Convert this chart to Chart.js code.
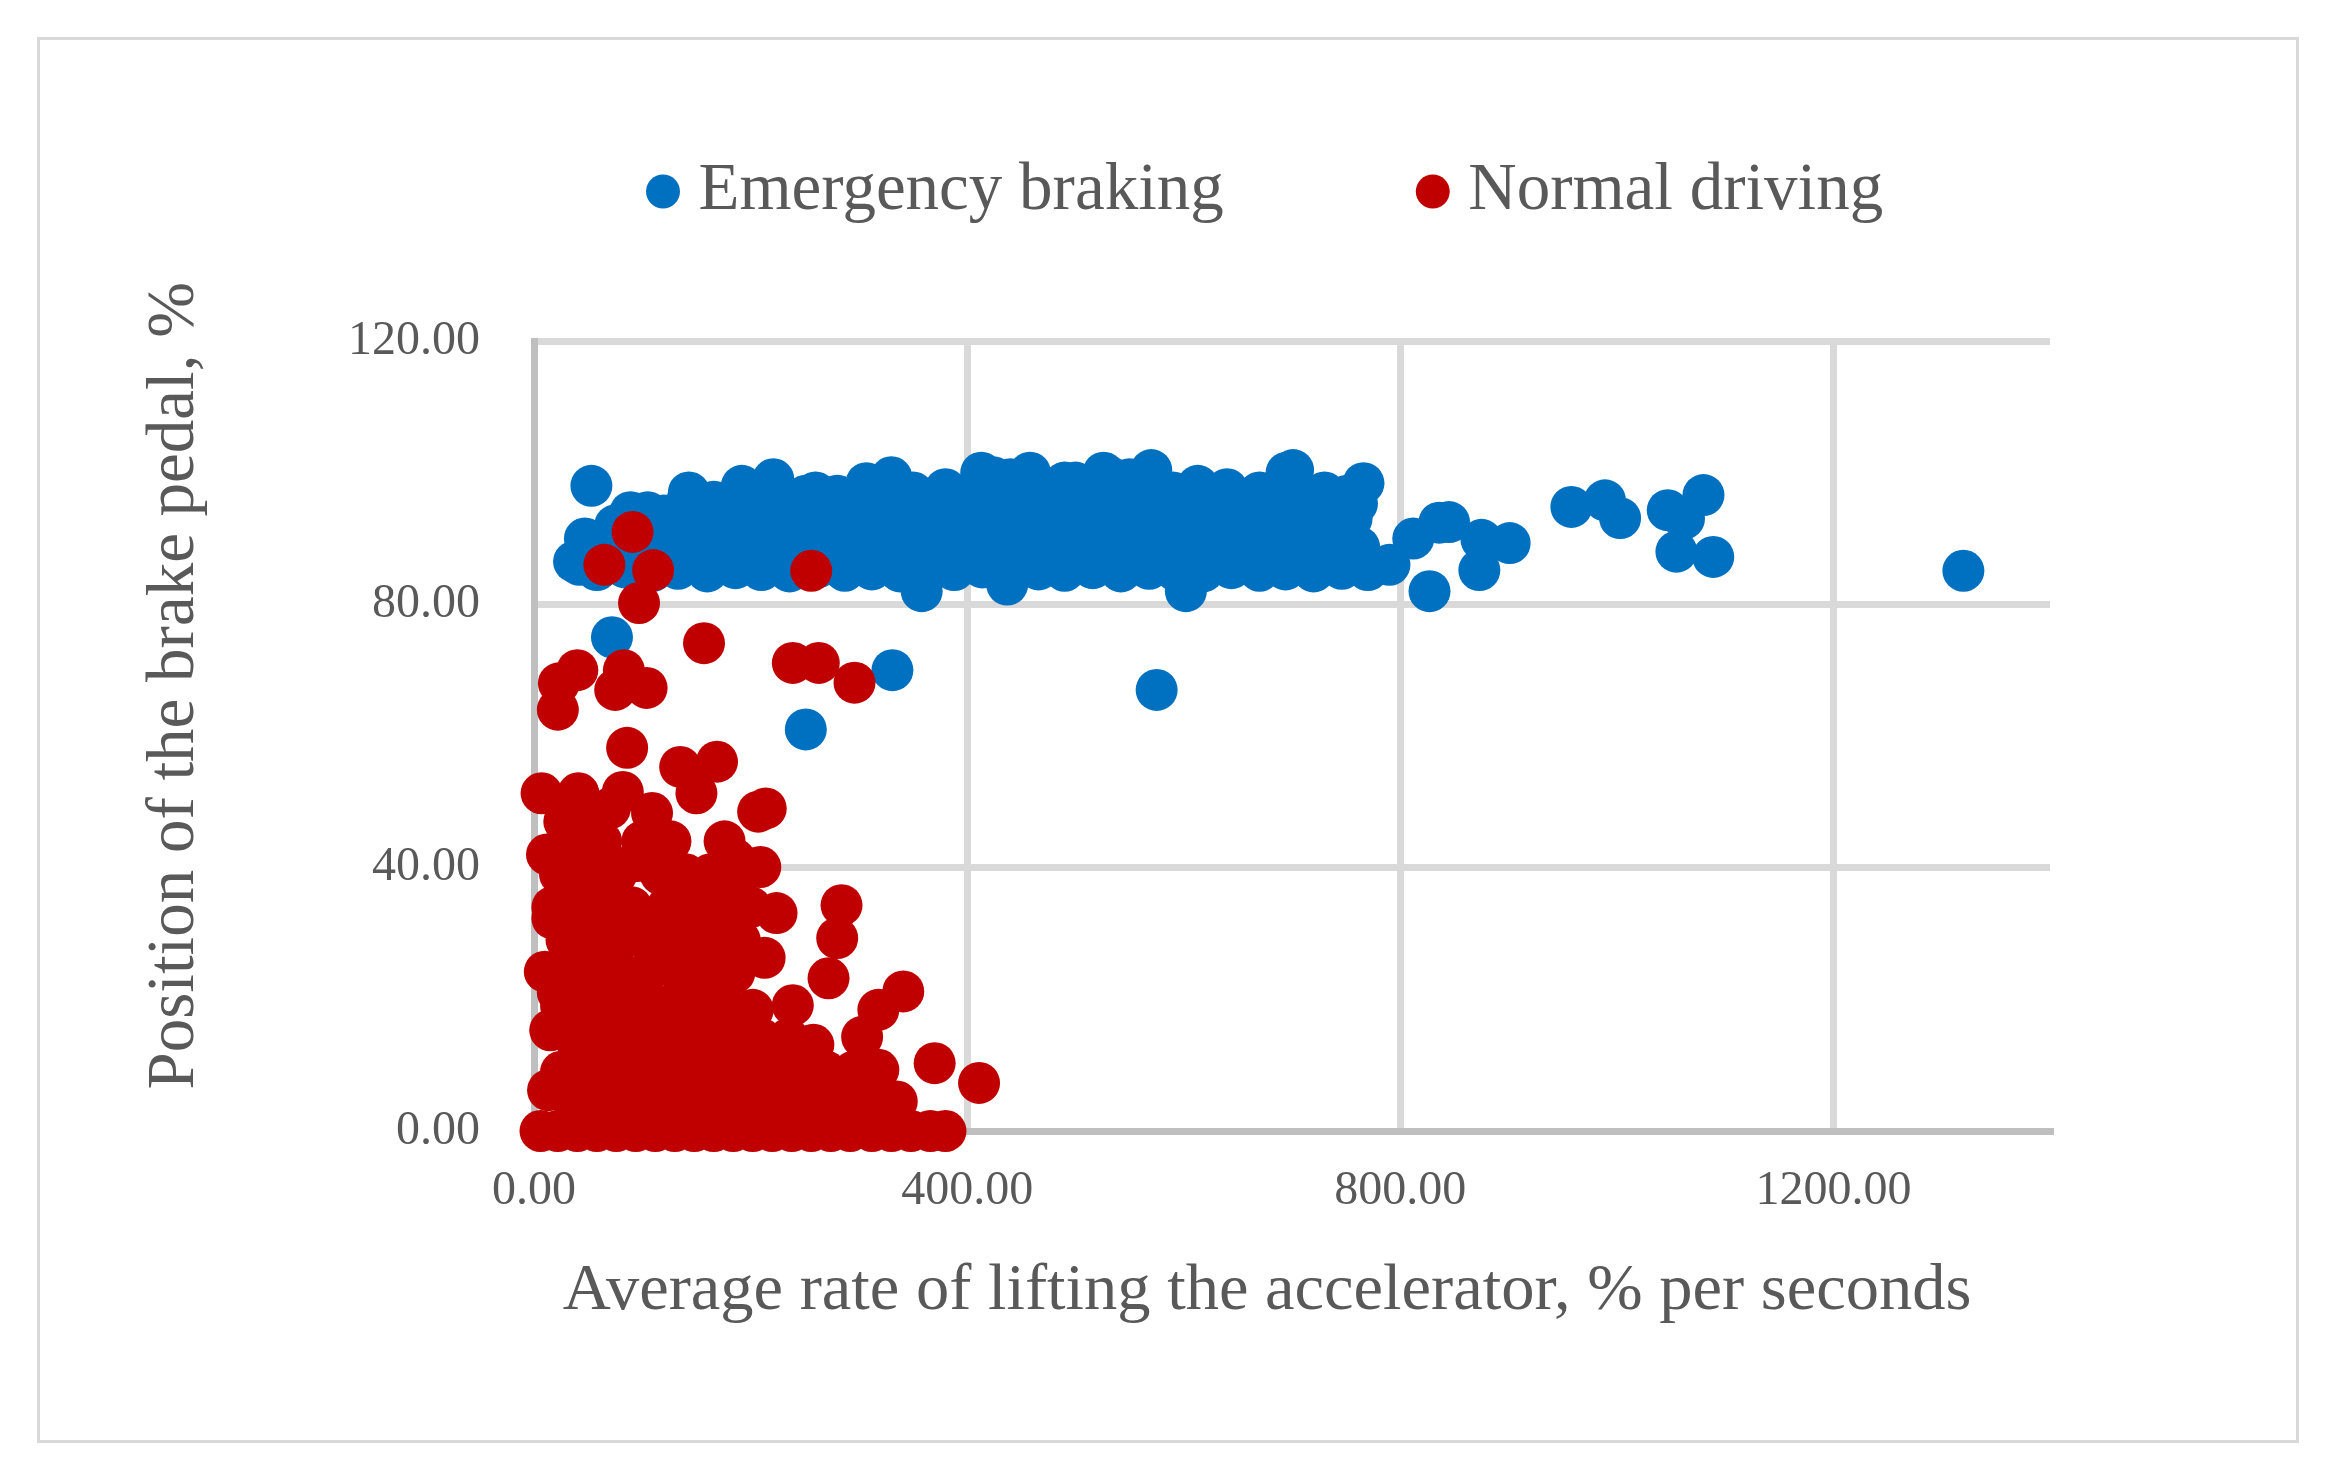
<!DOCTYPE html>
<html>
<head>
<meta charset="utf-8">
<title>Brake pedal vs accelerator lift rate</title>
<script src="https://cdn.jsdelivr.net/npm/chart.js@4/dist/chart.umd.min.js"></script>
<style>
  html, body { margin: 0; padding: 0; background: #ffffff; }
  #frame {
    position: absolute;
    left: 37px; top: 37px;
    width: 2262px; height: 1406px;
    border: 3px solid #d9d9d9;
    box-sizing: border-box;
    background: #ffffff;
  }
  #chart { display: block; }
</style>
</head>
<body>
<div id="frame"><canvas id="chart" width="2256" height="1400"></canvas></div>
<script>
// --- Data ---
const xTickValues = [0, 400, 800, 1200];
const yTickValues = [0, 40, 80, 120];

// Emergency braking: [rate of lifting accelerator, brake pedal position]
const emergencyPoints = [
  // lower row of the dense band
  [58,85.2],[84,85.6],[110,85.1],[133,85.4],[160,85.0],[186,85.5],[210,85.2],[236,85.0],[262,85.6],[287,85.1],
  [312,85.3],[338,85.0],[365,85.4],[388,85.2],[414,85.6],[440,85.0],[466,85.3],[490,85.1],[516,85.5],[542,85.0],
  [568,85.4],[592,85.2],[618,85.0],[644,85.5],[670,85.1],[694,85.3],[720,85.0],[746,85.4],[770,85.2],
  // second row
  [66,88.4],[92,88.8],[118,88.2],[145,88.6],[171,88.9],[197,88.3],[223,88.7],[249,88.5],[275,88.1],[300,88.8],
  [326,88.4],[352,88.6],[378,88.2],[404,88.9],[430,88.5],[455,88.3],[481,88.7],[507,88.4],[533,88.9],[559,88.2],
  [585,88.6],[611,88.4],[637,88.8],[663,88.3],[689,88.6],[715,88.5],[741,88.2],[762,88.7],
  // third row
  [75,92.0],[100,92.3],[127,91.8],[153,92.4],[178,91.9],[204,92.2],[230,92.0],[256,91.7],[282,92.3],[308,92.1],
  [334,91.8],[360,92.4],[386,92.0],[412,92.2],[438,91.9],[464,92.3],[490,92.0],[516,91.7],[542,92.4],[568,92.1],
  [594,91.8],[620,92.2],[646,92.0],[672,91.9],[698,92.3],[724,92.0],[752,91.8],
  // fourth row
  [140,95.2],[166,95.6],[192,95.0],[218,95.4],[244,95.1],[270,95.5],[296,95.0],[322,95.3],[348,95.6],[374,95.0],
  [400,95.4],[426,95.2],[452,95.6],[478,95.0],[504,95.3],[530,95.5],[556,95.1],[582,95.4],[608,95.0],[634,95.2],
  [660,95.6],[686,95.1],[712,95.4],[738,95.0],[760,95.3],
  // top edge of the band
  [143,97.0],[192,98.0],[221,99.0],[251,96.5],[260,97.0],[280,96.5],[307,98.4],[330,99.3],[350,97.0],[380,97.5],
  [413,100.0],[424,99.3],[440,99.0],[458,100.0],[461,99.0],[490,98.5],[500,98.5],[526,100.0],[532,99.3],[550,99.0],
  [570,100.4],[590,97.0],[613,98.0],[640,97.5],[670,97.0],[695,100.0],[701,100.4],[718,96.0],[730,97.0],[751,96.5],[766,98.4],
  // left end of the band
  [53,98.0],[47,90.0],[42,86.0],[37,86.5],[55,89.0],[89,94.0],[105,94.0],[120,93.5],
  // lower dips and outliers
  [72,75.0],[358,82.0],[331,70.0],[251,61.0],[575,67.0],[437,83.0],[602,82.0],[755,93.0],
  [790,86.0],[812,90.0],[836,92.4],[845,92.5],[827,82.0],[873,85.2],[875,89.8],[901,89.3],
  [958,94.8],[989,95.8],[1003,93.1],[1047,94.3],[1062,93.0],[1080,96.6],[1055,88.0],[1089,87.2],[1320,85.1]
];

// Normal driving
const normalPoints = [
  // high outliers
  [91,91.0],[65,86.0],[110,85.2],[256,85.1],[97,80.2],[157,74.1],[239,71.1],[263,71.1],[296,68.1],
  [40,70.0],[23,68.0],[22,64.0],[83,70.0],[75,67.0],[104,67.3],
  // upper edge of the cloud
  [86,58.2],[82,51.5],[109,48.3],[135,55.3],[169,56.1],[150,51.3],[207,48.5],[214,49.0],[7,51.3],[41,51.3],
  [123,43.1],[186,41.2],[209,40.1],[284,34.3],[280,29.3],[224,33.1],[17,32.3],[10,24.2],[15,15.3],[13,6.2],
  // right tail
  [411,7.3],[370,10.3],[341,21.2],[318,18.4],[303,14.3],[318,9.3],[272,23.2],[239,19.1],[258,13.1],[267,4.7],
  [213,26.3],[202,18.4],[169,29.3],[132,29.3],
  // dense body
  [28,47],[55,47],[70,49],[12,42],[45,42],[95,41],[140,36],
  [31,44],[62,44],[100,44],[126,44],[176,44],
  [24,39],[50,39],[76,39],[117,39],[140,39],[163,39],[190,39],
  [17,34],[40,34],[64,34],[90,34],[123,34],[150,34],[178,34],[200,34],
  [30,29],[55,29],[80,29],[105,29],[155,29],[190,29],[42,31],[93,31],[118,26],
  [35,24],[58,24],[79,24],[104,24],[135,24],[160,24],[185,24],[22,21],[68,21],[146,21],
  [25,19],[50,19],[75,19],[100,19],[125,19],[150,19],[175,19],
  [38,14],[62,14],[86,14],[110,14],[135,14],[160,14],[185,14],[210,14],[235,14],[50,11],[122,11],[198,11],
  [25,9],[48,9],[72,9],[96,9],[120,9],[145,9],[170,9],[195,9],[220,9],[245,9],[270,9],[295,9],
  [36,4.5],[60,4.5],[84,4.5],[108,4.5],[132,4.5],[156,4.5],[180,4.5],[204,4.5],[228,4.5],[252,4.5],[290,4.5],[315,4.5],[335,4.5],
  // bottom row at zero
  [6,0],[22,0],[40,0],[58,0],[76,0],[94,0],[112,0],[130,0],[148,0],[166,0],[184,0],[202,0],[220,0],
  [238,0],[256,0],[274,0],[292,0],[312,0],[330,0],[348,0],[366,0],[380,0],[280,2],[330,1.5]
];

// --- Styling ---
const textColor  = "#595959";
const gridColor  = "#d9d9d9";
const axisColor  = "#bfbfbf";
const serif      = "'Liberation Serif', 'Times New Roman', serif";

// legend is placed by hand after layout, like the Excel original
const legendPlacer = {
  id: "legendPlacer",
  afterLayout(chart) {
    const lg = chart.legend;
    const w = lg.right - lg.left;
    const h = lg.bottom - lg.top;
    lg.left = 414; lg.right = lg.left + w;
    lg.top = -89; lg.bottom = lg.top + h;
  }
};

const toXY = pts => pts.map(p => ({ x: p[0], y: p[1] }));

new Chart(document.getElementById("chart"), {
  type: "scatter",
  data: {
    datasets: [
      {
        label: "Emergency braking",
        data: toXY(emergencyPoints),
        backgroundColor: "#0070c0",
        borderColor: "#0070c0",
        borderWidth: 0,
        pointRadius: 21,
        pointHoverRadius: 21,
        order: 2,
        clip: false
      },
      {
        label: "Normal driving",
        data: toXY(normalPoints),
        backgroundColor: "#c00000",
        borderColor: "#c00000",
        borderWidth: 0,
        pointRadius: 21,
        pointHoverRadius: 21,
        order: 1,
        clip: false
      }
    ]
  },
  options: {
    responsive: false,
    devicePixelRatio: 1,
    animation: false,
    events: [],
    layout: { padding: { left: 95, right: 246, top: 17, bottom: 109 } },
    plugins: {
      tooltip: { enabled: false },
      legend: {
        position: "top",
        align: "start",
        labels: {
          usePointStyle: true,
          boxWidth: 4,
          boxHeight: 24,
          padding: 207,
          color: textColor,
          font: { family: serif, size: 67 },
          sort: (a, b) => a.datasetIndex - b.datasetIndex
        }
      }
    },
    scales: {
      x: {
        type: "linear",
        min: 0,
        max: 1400,
        afterBuildTicks: s => { s.ticks = xTickValues.map(v => ({ value: v })); },
        afterFit: s => { s.height = 200; },
        ticks: {
          color: textColor,
          font: { family: serif, size: 48 },
          padding: 32,
          maxRotation: 0,
          callback: v => Number(v).toFixed(2)
        },
        grid: { color: gridColor, lineWidth: 7, drawTicks: false },
        border: { display: true, color: axisColor, width: 7 },
        title: {
          display: true,
          // trailing spaces nudge the centred title left, as in the original
          text: "Average rate of lifting the accelerator, % per seconds   ",
          color: textColor,
          font: { family: serif, size: 66.5 },
          padding: 0
        }
      },
      y: {
        type: "linear",
        min: 0,
        max: 120,
        afterBuildTicks: s => { s.ticks = yTickValues.map(v => ({ value: v })); },
        afterFit: s => { s.width = 399; },
        ticks: {
          color: textColor,
          font: { family: serif, size: 48 },
          padding: 54,
          callback: v => Number(v).toFixed(2)
        },
        grid: { color: gridColor, lineWidth: 7, drawTicks: false },
        border: { display: true, color: axisColor, width: 7 },
        title: {
          display: true,
          // leading spaces lift the rotated title a little, as in the original
          text: "      Position of the brake pedal, %",
          color: textColor,
          font: { family: serif, size: 67 },
          padding: 0
        }
      }
    }
  },
  plugins: [legendPlacer]
});
</script>
</body>
</html>
